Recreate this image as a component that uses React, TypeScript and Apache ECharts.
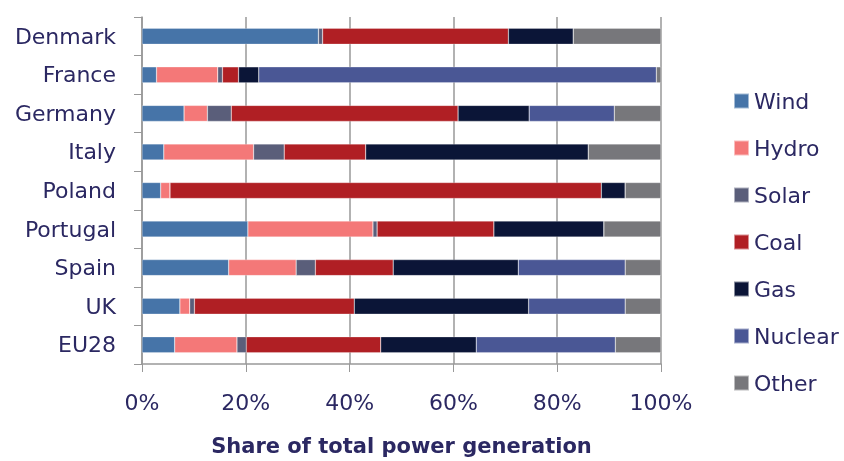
import React, { useEffect, useRef } from "react";
import * as echarts from "echarts";

const categories = ["Denmark", "France", "Germany", "Italy", "Poland", "Portugal", "Spain", "UK", "EU28"];
const seriesNames = ["Wind", "Hydro", "Solar", "Coal", "Gas", "Nuclear", "Other"];
const wind = [34.0, 2.8, 8.1, 4.2, 3.6, 20.4, 16.7, 7.3, 6.3];
const hydro = [0, 11.8, 4.5, 17.3, 1.8, 24.1, 13.0, 1.9, 12.0];
const solar = [0.8, 0.9, 4.6, 5.9, 0, 0.8, 3.7, 0.9, 1.8];
const coal = [35.8, 3.1, 43.7, 15.7, 83.1, 22.5, 15.0, 30.8, 25.9];
const gas = [12.5, 3.9, 13.7, 42.9, 4.6, 21.2, 24.1, 33.6, 18.4];
const nuclear = [0, 76.6, 16.4, 0, 0, 0, 20.6, 18.6, 26.8];
const other = [16.9, 0.9, 9.0, 14.0, 6.9, 11.0, 6.9, 6.9, 8.8];
const xTicks = [0, 20, 40, 60, 80, 100];

const colors = ["#4674A8", "#F47878", "#5A5E7A", "#B01F24", "#0B1537", "#4A5795", "#77777B"];
const values = [wind, hydro, solar, coal, gas, nuclear, other];
const textColor = "#2B2862";
const font = "DejaVu Sans";

export default function App() {
  const ref = useRef<HTMLDivElement>(null);
  useEffect(() => {
    if (!ref.current) return;
    const chart = echarts.init(ref.current, null, { renderer: "svg" });
    chart.setOption({
      animation: false,
      textStyle: { fontFamily: font, color: textColor },
      grid: { left: 142, right: 183, top: 17, bottom: 89 },
      legend: {
        orient: "vertical",
        left: 733,
        top: 90,
        padding: 0,
        itemWidth: 15,
        itemHeight: 15,
        itemGap: 25,
        icon: "rect",
        data: seriesNames,
        textStyle: { fontFamily: font, fontSize: 22, color: textColor, lineHeight: 22, overflow: "none" },
      },
      xAxis: {
        type: "value",
        min: xTicks[0],
        max: xTicks[xTicks.length - 1],
        interval: 20,
        name: "Share of total power generation",
        nameLocation: "middle",
        nameGap: 71,
        nameTextStyle: { fontFamily: font, fontSize: 21, fontWeight: "bold", color: textColor },
        axisLine: { show: true, lineStyle: { color: "#999999", width: 1.5 } },
        axisTick: { show: true, length: 8, lineStyle: { color: "#999999" } },
        axisLabel: { fontFamily: font, fontSize: 22, color: textColor, margin: 27, formatter: "{value}%" },
        splitLine: { show: true, lineStyle: { color: "#999999", width: 1.5 } },
      },
      yAxis: {
        type: "category",
        data: categories,
        inverse: true,
        axisLine: { show: true, lineStyle: { color: "#999999", width: 1.5 } },
        axisTick: { show: true, length: 8, lineStyle: { color: "#999999" } },
        axisLabel: { fontFamily: font, fontSize: 22, color: textColor, margin: 26 },
        splitLine: { show: false },
      },
      series: seriesNames.map((name, i) => ({
        name,
        type: "bar",
        stack: "total",
        barWidth: 16,
        data: values[i],
        itemStyle: { color: colors[i], borderColor: "rgba(255,255,255,0.5)", borderWidth: 0.5 },
      })),
    });
    return () => chart.dispose();
  }, []);
  return <div ref={ref} style={{ position: "fixed", left: 0, top: 0, width: 844, height: 461 }} />;
}
